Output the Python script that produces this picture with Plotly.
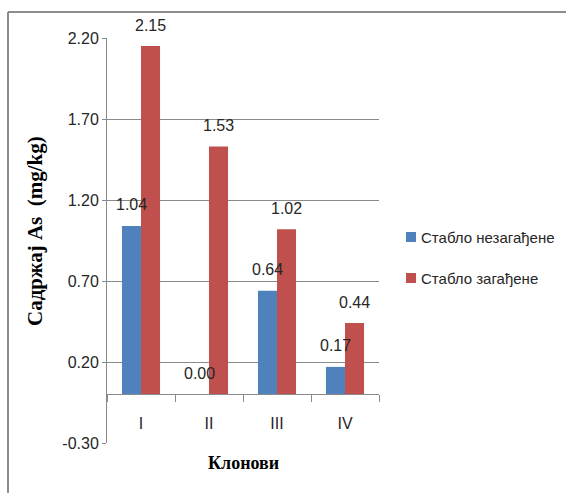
import plotly.graph_objects as go

# Arsenic content per clone, two tree groups
clones = ["I", "II", "III", "IV"]
unpolluted = [1.04, 0.00, 0.64, 0.17]
polluted = [2.15, 1.53, 1.02, 0.44]
series_names = ["Стабло незагађене", "Стабло загађене"]
series_colors = ["#4F81BD", "#C0504D"]
y_ticks = [-0.30, 0.20, 0.70, 1.20, 1.70, 2.20]

W, H = 566, 493
ML, MR, MT, MB = 107, 187, 38, 50
plot_w = W - ML - MR
plot_h = H - MT - MB
bargap = 0.44
y_min, y_max = -0.30, 2.20

sans = "Liberation Sans, Arial, sans-serif"
serif = "Liberation Serif, Times New Roman, serif"
grid = "#8A8A8A"
txt = "#262626"


def px_x(p):
    return (p - ML) / plot_w


def px_y(p):
    return (H - MB - p) / plot_h


fig = go.Figure()
for name, vals, col in zip(series_names, [unpolluted, polluted], series_colors):
    fig.add_trace(go.Bar(
        x=clones, y=vals, name=name, marker_color=col,
        marker_line_width=0, showlegend=False,
    ))

# value labels above each bar
cat_px = plot_w / len(clones)
bar_px = cat_px * (1 - bargap) / 2
annotations = []
for i, vals in enumerate([unpolluted, polluted]):
    shift = (i - 0.5) * bar_px
    for c, v in zip(clones, vals):
        annotations.append(dict(
            x=c, y=v, xref="x", yref="y", text=f"{v:.2f}", showarrow=False,
            xshift=shift, yshift=21, yanchor="middle",
            font=dict(family=sans, size=16, color=txt),
        ))

annotations.append(dict(
    x=0.5, y=px_y(463), xref="paper", yref="paper", text="<b>Клонови</b>",
    showarrow=False, yanchor="middle",
    font=dict(family=serif, size=18, color="#000000"),
))
annotations.append(dict(
    x=px_x(35), y=px_y(231), xref="paper", yref="paper",
    text="<b>Садржај As  (mg/kg)</b>", showarrow=False, textangle=-90,
    xanchor="center", yanchor="middle",
    font=dict(family=serif, size=21, color="#000000"),
))

shapes = [
    dict(type="line", xref="paper", yref="paper", x0=px_x(8), x1=px_x(W + 5),
         y0=px_y(12), y1=px_y(12), line=dict(color="#8C8C8C", width=2)),
    dict(type="line", xref="paper", yref="paper", x0=px_x(8), x1=px_x(8),
         y0=px_y(12), y1=px_y(H + 5), line=dict(color="#8C8C8C", width=2)),
]

# legend: colour key squares with series names
legend_rows = [237, 278]
for name, col, row in zip(series_names, series_colors, legend_rows):
    shapes.append(dict(
        type="rect", xref="paper", yref="paper",
        x0=px_x(406), x1=px_x(416), y0=px_y(row - 5), y1=px_y(row + 5),
        fillcolor=col, line=dict(width=0),
    ))
    annotations.append(dict(
        x=px_x(419), y=px_y(row), xref="paper", yref="paper", text=name,
        showarrow=False, xanchor="left", yanchor="middle",
        font=dict(family=sans, size=15, color=txt),
    ))

fig.update_layout(
    width=W, height=H,
    margin=dict(l=ML, r=MR, t=MT, b=MB),
    paper_bgcolor="white", plot_bgcolor="white",
    barmode="group", bargap=bargap, bargroupgap=0,
    annotations=annotations, shapes=shapes,
    showlegend=False,
    xaxis=dict(
        type="category", anchor="free", position=(0 - y_min) / (y_max - y_min),
        showline=True, linecolor=grid, linewidth=1,
        ticks="outside", ticklen=7, tickcolor=grid, tickson="boundaries",
        ticklabelstandoff=14, showgrid=False,
        tickfont=dict(family=sans, size=16, color=txt),
    ),
    yaxis=dict(
        range=[y_min, y_max], tickvals=y_ticks,
        ticktext=[f"{t:.2f}" for t in y_ticks],
        showline=True, linecolor=grid, linewidth=1,
        ticks="outside", ticklen=4, tickcolor=grid,
        showgrid=True, gridcolor=grid, gridwidth=1, zeroline=False,
        tickfont=dict(family=sans, size=16, color=txt),
    ),
)

fig.write_html("out.html")
